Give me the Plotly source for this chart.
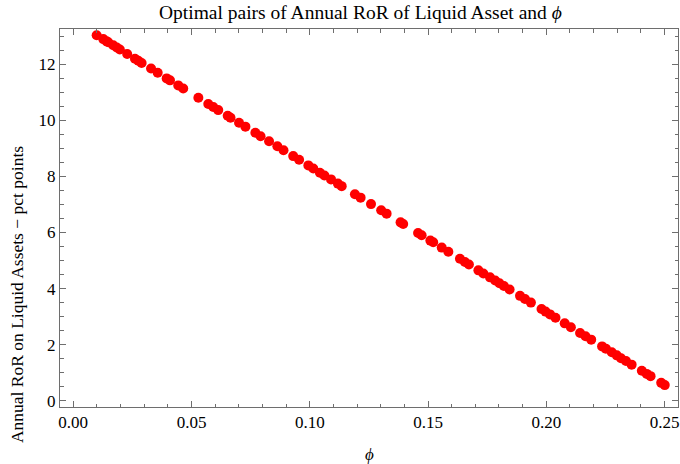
import plotly.graph_objects as go

# Optimal (phi, annual RoR on liquid assets) pairs
phi = [0.0099, 0.0127, 0.0141, 0.0148, 0.0169, 0.0184, 0.0197, 0.0228, 0.0261, 0.0275,
       0.0289, 0.0329, 0.0357, 0.0395, 0.0409, 0.0444, 0.0465, 0.0529, 0.0571, 0.0592,
       0.0613, 0.0653, 0.0665, 0.0701, 0.0728, 0.0770, 0.0792, 0.0828, 0.0863, 0.0889,
       0.0930, 0.0955, 0.0994, 0.1015, 0.1043, 0.1062, 0.1090, 0.1119, 0.1135, 0.1191,
       0.1215, 0.1259, 0.1302, 0.1325, 0.1384, 0.1395, 0.1458, 0.1473, 0.1510, 0.1522,
       0.1558, 0.1586, 0.1635, 0.1656, 0.1673, 0.1713, 0.1734, 0.1762, 0.1784, 0.1802,
       0.1821, 0.1845, 0.1889, 0.1910, 0.1935, 0.1980, 0.1997, 0.2016, 0.2039, 0.2078,
       0.2104, 0.2143, 0.2166, 0.2190, 0.2236, 0.2252, 0.2277, 0.2298, 0.2316, 0.2337,
       0.2361, 0.2404, 0.2425, 0.2441, 0.2486, 0.2501]
ror = [13.03, 12.89, 12.81, 12.78, 12.67, 12.59, 12.52, 12.36, 12.19, 12.12,
       12.04, 11.84, 11.69, 11.49, 11.42, 11.24, 11.13, 10.80, 10.58, 10.47,
       10.36, 10.16, 10.09, 9.91, 9.77, 9.55, 9.43, 9.25, 9.07, 8.93,
       8.72, 8.59, 8.39, 8.28, 8.13, 8.03, 7.89, 7.74, 7.65, 7.36,
       7.24, 7.01, 6.79, 6.67, 6.36, 6.30, 5.98, 5.90, 5.71, 5.65,
       5.46, 5.31, 5.06, 4.95, 4.86, 4.65, 4.54, 4.40, 4.29, 4.19,
       4.09, 3.97, 3.74, 3.63, 3.50, 3.27, 3.18, 3.08, 2.96, 2.76,
       2.62, 2.42, 2.30, 2.18, 1.94, 1.86, 1.73, 1.62, 1.52, 1.42,
       1.29, 1.07, 0.96, 0.88, 0.64, 0.56]

x_ticks = [0.00, 0.05, 0.10, 0.15, 0.20, 0.25]
x_tick_text = ["0.00", "0.05", "0.10", "0.15", "0.20", "0.25"]
y_ticks = [0, 2, 4, 6, 8, 10, 12]

FONT = "Liberation Serif"
FRAME = "#6e6e6e"

fig = go.Figure(
    go.Scatter(
        x=phi, y=ror, mode="markers",
        marker=dict(size=10, color="rgb(255,0,0)", line=dict(width=0)),
        showlegend=False,
    )
)

axis_common = dict(
    showgrid=False, zeroline=False,
    showline=True, linecolor=FRAME, linewidth=1, mirror="ticks",
    ticks="inside", ticklen=6, tickcolor=FRAME, tickwidth=1,
    tickfont=dict(family=FONT, size=17, color="black"),
)

fig.update_xaxes(
    range=[-0.0056, 0.2557], tickvals=x_ticks, ticktext=x_tick_text,
    minor=dict(dtick=0.01, tick0=0, ticks="inside", ticklen=3.5, tickcolor=FRAME, tickwidth=1),
    **axis_common,
)
fig.update_yaxes(
    range=[-0.22, 13.25], tickvals=y_ticks,
    minor=dict(dtick=0.5, tick0=0, ticks="inside", ticklen=3.5, tickcolor=FRAME, tickwidth=1),
    **axis_common,
)

fig.update_layout(
    width=680, height=464,
    margin=dict(l=60, r=2, t=29, b=57),
    paper_bgcolor="white", plot_bgcolor="white",
    font=dict(family=FONT, color="black"),
    annotations=[
        dict(text="Optimal pairs of Annual RoR of Liquid Asset and <i>ϕ</i>",
             xref="paper", yref="paper", x=0.5, xshift=-9, y=1, yshift=17,
             xanchor="center", yanchor="middle",
             showarrow=False, font=dict(family=FONT, size=19.5, color="black")),
        dict(text="<i>ϕ</i>", xref="paper", yref="paper", x=0.5, y=0, yshift=-47,
             xanchor="center", yanchor="middle",
             showarrow=False, font=dict(family=FONT, size=17, color="black")),
        dict(text="Annual RoR on Liquid Assets − pct points", textangle=-90,
             xref="paper", yref="paper", x=0, xshift=-43, y=0.296,
             xanchor="center", yanchor="middle",
             showarrow=False, font=dict(family=FONT, size=17.5, color="black")),
    ],
)

fig.write_html("out.html")
